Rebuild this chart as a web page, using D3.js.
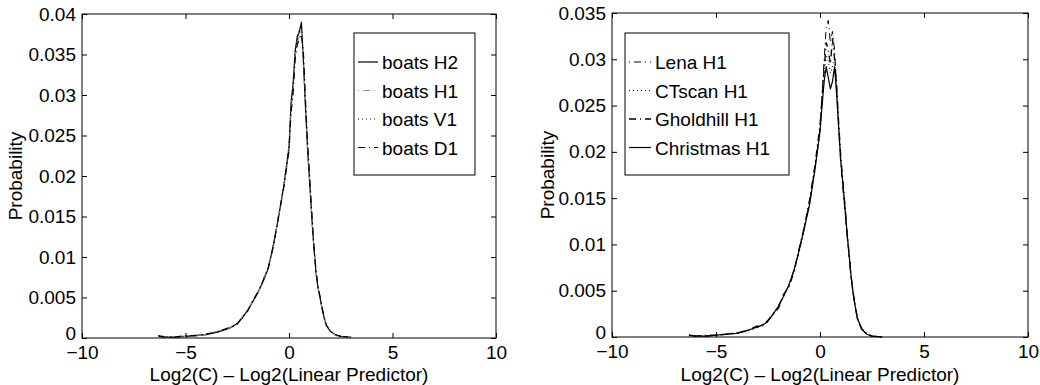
<!DOCTYPE html>
<html>
<head>
<meta charset="utf-8">
<script src="https://cdn.jsdelivr.net/npm/d3@7"></script>
<style>
  body { margin: 0; background: #fff; }
  svg { display: block; font-family: "Liberation Sans", Arial, Helvetica, sans-serif; }
</style>
</head>
<body>
<svg id="chart" width="1040" height="385"></svg>
<script>
// x grid shared by every curve (Log2(C) - Log2(Linear Predictor))
const xs = [-6.3, -6, -5.5, -5, -4.5, -4, -3.5, -3, -2.75, -2.5, -2.25, -2, -1.75, -1.5, -1.25, -1, -0.75, -0.5, -0.25, 0,
    0.1, 0.2, 0.3, 0.4, 0.5, 0.6, 0.7, 0.8, 0.9, 1.0, 1.1, 1.2, 1.3, 1.4, 1.5, 1.6, 1.7, 1.8, 2.0, 2.25, 2.5, 3.0];

// left panel: boats subbands
const boatsH2 = [0.0003, 0.0001, 0.0001, 0.0002, 0.0003, 0.0004, 0.0007, 0.0011, 0.0014, 0.0018, 0.0025, 0.0034, 0.0045, 0.0056, 0.0070, 0.0086, 0.0115, 0.0150, 0.0188, 0.0235,
    0.0290, 0.0315, 0.0355, 0.0372, 0.0378, 0.0390, 0.0340, 0.0282, 0.0232, 0.0192, 0.0150, 0.0112, 0.0082, 0.0062, 0.0050, 0.0036, 0.0025, 0.0016, 0.0008, 0.0004, 0.0002, 0.0001];
const boatsH1 = [0.0002, 0.0001, 0.0002, 0.0002, 0.0003, 0.0005, 0.0008, 0.0010, 0.0015, 0.0017, 0.0027, 0.0033, 0.0047, 0.0055, 0.0072, 0.0088, 0.0112, 0.0152, 0.0185, 0.0230,
    0.0282, 0.0308, 0.0348, 0.0366, 0.0372, 0.0380, 0.0345, 0.0288, 0.0236, 0.0195, 0.0152, 0.0110, 0.0084, 0.0063, 0.0048, 0.0035, 0.0024, 0.0015, 0.0008, 0.0003, 0.0002, 0.0001];
const boatsV1 = [0.0003, 0.0002, 0.0001, 0.0002, 0.0004, 0.0004, 0.0008, 0.0011, 0.0013, 0.0019, 0.0024, 0.0035, 0.0044, 0.0058, 0.0069, 0.0088, 0.0117, 0.0148, 0.0190, 0.0238,
    0.0285, 0.0312, 0.0350, 0.0368, 0.0382, 0.0385, 0.0338, 0.0285, 0.0230, 0.0190, 0.0148, 0.0114, 0.0080, 0.0061, 0.0049, 0.0037, 0.0024, 0.0017, 0.0009, 0.0004, 0.0002, 0.0001];
const boatsD1 = [0.0002, 0.0001, 0.0001, 0.0003, 0.0003, 0.0005, 0.0007, 0.0012, 0.0014, 0.0017, 0.0026, 0.0033, 0.0046, 0.0057, 0.0071, 0.0087, 0.0114, 0.0151, 0.0186, 0.0232,
    0.0278, 0.0302, 0.0345, 0.0362, 0.0370, 0.0375, 0.0350, 0.0292, 0.0240, 0.0198, 0.0155, 0.0115, 0.0085, 0.0064, 0.0051, 0.0037, 0.0026, 0.0016, 0.0008, 0.0004, 0.0002, 0.0001];

// right panel: H1 of several images
const lenaH1 = [0.0002, 0.0001, 0.0002, 0.0002, 0.0003, 0.0005, 0.0007, 0.0010, 0.0014, 0.0018, 0.0024, 0.0034, 0.0045, 0.0055, 0.0073, 0.0092, 0.0120, 0.0146, 0.0182, 0.0225,
    0.0262, 0.0300, 0.0335, 0.0342, 0.0318, 0.0330, 0.0310, 0.0270, 0.0222, 0.0186, 0.0160, 0.0136, 0.0110, 0.0086, 0.0062, 0.0045, 0.0031, 0.0019, 0.0008, 0.0003, 0.0001, 0.0000];
const ctscanH1 = [0.0001, 0.0001, 0.0001, 0.0002, 0.0003, 0.0004, 0.0006, 0.0011, 0.0013, 0.0016, 0.0026, 0.0032, 0.0043, 0.0057, 0.0071, 0.0093, 0.0116, 0.0145, 0.0178, 0.0220,
    0.0255, 0.0285, 0.0305, 0.0298, 0.0285, 0.0292, 0.0300, 0.0268, 0.0228, 0.0192, 0.0164, 0.0138, 0.0114, 0.0090, 0.0066, 0.0047, 0.0033, 0.0021, 0.0010, 0.0004, 0.0001, 0.0000];
const gholdhillH1 = [0.0002, 0.0001, 0.0001, 0.0002, 0.0003, 0.0004, 0.0007, 0.0012, 0.0012, 0.0018, 0.0025, 0.0031, 0.0046, 0.0054, 0.0070, 0.0096, 0.0119, 0.0148, 0.0184, 0.0228,
    0.0258, 0.0290, 0.0318, 0.0310, 0.0295, 0.0322, 0.0300, 0.0272, 0.0230, 0.0194, 0.0168, 0.0142, 0.0114, 0.0089, 0.0065, 0.0047, 0.0032, 0.0020, 0.0009, 0.0003, 0.0001, 0.0000];
const christmasH1 = [0.0002, 0.0001, 0.0001, 0.0002, 0.0003, 0.0004, 0.0007, 0.0011, 0.0013, 0.0017, 0.0025, 0.0033, 0.0044, 0.0056, 0.0072, 0.0094, 0.0118, 0.0143, 0.0180, 0.0222,
    0.0250, 0.0276, 0.0292, 0.0280, 0.0268, 0.0276, 0.0292, 0.0262, 0.0226, 0.0190, 0.0166, 0.0140, 0.0112, 0.0088, 0.0064, 0.0046, 0.0032, 0.0020, 0.0009, 0.0003, 0.0001, 0.0000];

// ticks
const xTicks = [-10, -5, 0, 5, 10];
const yTicksLeft = [0, 0.005, 0.01, 0.015, 0.02, 0.025, 0.03, 0.035, 0.04];
const yTicksRight = [0, 0.005, 0.01, 0.015, 0.02, 0.025, 0.03, 0.035];

const xLabel = "Log2(C) \u2013 Log2(Linear Predictor)";
const yLabel = "Probability";

const leftSeries = [
    { name: "boats H2", values: boatsH2, color: "#000", dash: null, width: 1.2 },
    { name: "boats H1", values: boatsH1, color: "#999", dash: "1,4,7,4", width: 1.2 },
    { name: "boats V1", values: boatsV1, color: "#000", dash: "1,3", width: 1 },
    { name: "boats D1", values: boatsD1, color: "#000", dash: "7,4,1,4", width: 1.2 }
];
const rightSeries = [
    { name: "Lena H1", values: lenaH1, color: "#000", dash: "1,4,7,4", width: 1 },
    { name: "CTscan H1", values: ctscanH1, color: "#000", dash: "1,3", width: 1 },
    { name: "Gholdhill H1", values: gholdhillH1, color: "#000", dash: "7,4,1,4", width: 1.4 },
    { name: "Christmas H1", values: christmasH1, color: "#000", dash: null, width: 1.2 }
];

const svg = d3.select("#chart");
const fontSize = 19;

function fmtY(d) {
    return d === 0 ? "0" : String(+d.toFixed(3));
}

function drawPanel(p) {
    let x = d3.scaleLinear().domain([-10, 10]).range([p.left, p.right]);
    let y = d3.scaleLinear().domain([0, p.yMax]).range([p.bottom, p.top]);
    let g = svg.append("g");

    // curves
    let line = d3.line()
        .x((d, i) => x(xs[i]))
        .y(d => y(d));
    for (let s of p.series) {
        g.append("path")
            .attr("d", line(s.values))
            .attr("fill", "none")
            .attr("stroke", s.color)
            .attr("stroke-width", s.width)
            .attr("stroke-dasharray", s.dash)
            .attr("stroke-linejoin", "round");
    }

    // axes (inward ticks on all four sides)
    let bottom = g.append("g").attr("transform", "translate(0," + p.bottom + ")")
        .call(d3.axisBottom(x).tickValues(xTicks).tickSize(-5).tickPadding(8));
    let top = g.append("g").attr("transform", "translate(0," + p.top + ")")
        .call(d3.axisTop(x).tickValues(xTicks).tickSize(-5).tickFormat(""));
    let left = g.append("g").attr("transform", "translate(" + p.left + ",0)")
        .call(d3.axisLeft(y).tickValues(p.yTicks).tickSize(-5).tickPadding(6).tickFormat(fmtY));
    let right = g.append("g").attr("transform", "translate(" + p.right + ",0)")
        .call(d3.axisRight(y).tickValues(p.yTicks).tickSize(-5).tickFormat(""));
    for (let a of [bottom, top, left, right]) {
        a.select(".domain").remove();
        a.selectAll(".tick line").attr("stroke", "#000");
        a.selectAll("text")
            .attr("fill", "#000")
            .attr("font-size", fontSize)
            .attr("font-family", "Liberation Sans, Arial, sans-serif");
    }
    bottom.selectAll("text").attr("dy", "0.71em");
    // lift the zero label a little so it clears the x tick labels
    left.selectAll(".tick text").filter(d => d === 0).attr("dy", "0.1em");

    g.append("rect")
        .attr("x", p.left).attr("y", p.top)
        .attr("width", p.right - p.left).attr("height", p.bottom - p.top)
        .attr("fill", "none").attr("stroke", "#000").attr("stroke-width", 1);

    // axis titles
    g.append("text")
        .attr("x", (p.left + p.right) / 2).attr("y", 381)
        .attr("text-anchor", "middle").attr("font-size", fontSize)
        .text(xLabel);
    g.append("text")
        .attr("transform", "translate(" + p.yLabelX + "," + (p.top + p.bottom) / 2 + ") rotate(-90)")
        .attr("text-anchor", "middle").attr("font-size", fontSize)
        .text(yLabel);

    // legend
    let lg = g.append("g");
    lg.append("rect")
        .attr("x", p.legend.x).attr("y", p.legend.y)
        .attr("width", p.legend.w).attr("height", p.legend.h)
        .attr("fill", "#fff").attr("stroke", "#000").attr("stroke-width", 1);
    p.series.forEach((s, i) => {
        let cy = p.legend.y + 29 + i * 28.5;
        lg.append("line")
            .attr("x1", p.legend.x + 4).attr("x2", p.legend.x + p.legend.sample)
            .attr("y1", cy).attr("y2", cy)
            .attr("stroke", s.color)
            .attr("stroke-width", s.width)
            .attr("stroke-dasharray", s.dash);
        lg.append("text")
            .attr("x", p.legend.x + p.legend.sample + 4).attr("y", cy + 7)
            .attr("font-size", fontSize)
            .text(s.name);
    });
}

drawPanel({
    left: 82, right: 496, top: 14, bottom: 338, yMax: 0.04, yTicks: yTicksLeft,
    yLabelX: 22, series: leftSeries,
    legend: { x: 354, y: 33, w: 121, h: 142, sample: 24 }
});
drawPanel({
    left: 612, right: 1028, top: 13, bottom: 337, yMax: 0.035, yTicks: yTicksRight,
    yLabelX: 554, series: rightSeries,
    legend: { x: 625, y: 33, w: 164, h: 142, sample: 26 }
});
</script>
</body>
</html>
